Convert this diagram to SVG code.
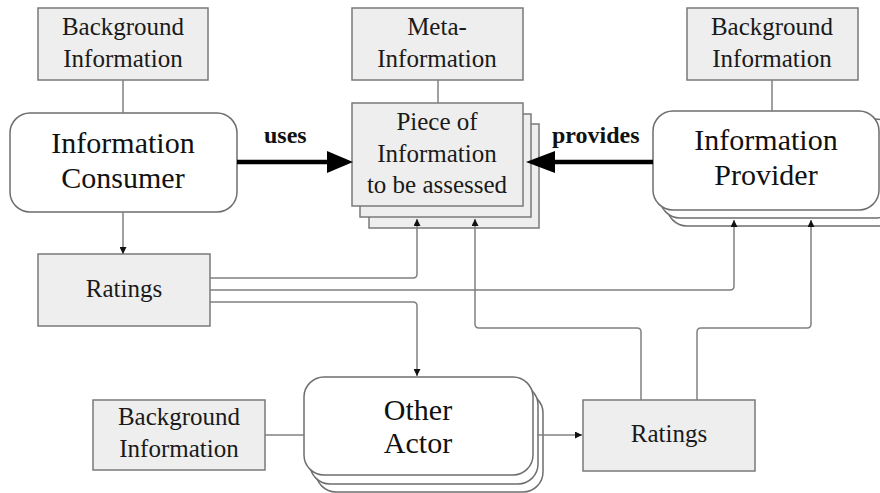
<svg xmlns="http://www.w3.org/2000/svg" width="880" height="493" viewBox="0 0 880 493">
<defs>
<style>
.box{fill:#eeeeee;stroke:#7a7a7a;stroke-width:1.5}
.actor{fill:#ffffff;stroke:#6e6e6e;stroke-width:1.5}
text{font-family:'Liberation Serif','DejaVu Serif',serif}
.t{font-size:25px;fill:#1a1a1a;text-anchor:middle}
.ta{font-size:30px;fill:#111;text-anchor:middle}
.lbl{font-size:24px;font-weight:bold;fill:#111}
.c{fill:none;stroke:#808080;stroke-width:1.5}
.thick{fill:none;stroke:#000;stroke-width:4.5}
</style>
<marker id="sm" viewBox="0 0 10 10" refX="10" refY="5" markerWidth="9" markerHeight="7" markerUnits="userSpaceOnUse" orient="auto">
<path d="M0,0 L10,5 L0,10 Z" fill="#111"/>
</marker>
</defs>

<g id="bg-consumer">
<rect class="box" x="38" y="8" width="170" height="72"/>
<text class="t" x="123" y="35">Background</text>
<text class="t" x="123" y="67">Information</text>
</g>

<g id="meta-information">
<rect class="box" x="352" y="8" width="171" height="72"/>
<text class="t" x="437" y="35">Meta-</text>
<text class="t" x="437" y="67">Information</text>
</g>

<g id="bg-provider">
<rect class="box" x="687" y="8" width="171" height="72"/>
<text class="t" x="772" y="35">Background</text>
<text class="t" x="772" y="67">Information</text>
</g>

<g id="information-consumer">
<rect class="actor" x="10" y="113" width="227" height="99" rx="20" ry="20"/>
<text class="ta" x="123" y="153">Information</text>
<text class="ta" x="123" y="188">Consumer</text>
</g>

<g id="piece-of-information">
<rect class="box" x="369" y="124" width="170" height="104"/>
<rect class="box" x="360" y="114" width="171" height="103"/>
<rect class="box" x="352" y="103" width="171" height="103"/>
<text class="t" x="437" y="130">Piece of</text>
<text class="t" x="437" y="162">Information</text>
<text class="t" x="437" y="193">to be assessed</text>
</g>

<g id="information-provider">
<rect class="actor" x="667" y="127" width="240" height="99" rx="20" ry="20"/>
<rect class="actor" x="660" y="119" width="235" height="99" rx="20" ry="20"/>
<rect class="actor" x="653" y="111" width="226" height="99" rx="20" ry="20"/>
<text class="ta" x="766" y="150">Information</text>
<text class="ta" x="766" y="185">Provider</text>
</g>

<g id="ratings-consumer">
<rect class="box" x="38" y="254" width="172" height="72"/>
<text class="t" x="124" y="297">Ratings</text>
</g>

<g id="bg-other">
<rect class="box" x="93" y="400" width="172" height="70"/>
<text class="t" x="179" y="425">Background</text>
<text class="t" x="179" y="457">Information</text>
</g>

<g id="other-actor">
<rect class="actor" x="316" y="393" width="227" height="99" rx="20" ry="20"/>
<rect class="actor" x="310" y="385" width="228" height="99" rx="20" ry="20"/>
<rect class="actor" x="304" y="377" width="229" height="98" rx="20" ry="20"/>
<text class="ta" x="418" y="420">Other</text>
<text class="ta" x="418" y="453">Actor</text>
</g>

<g id="ratings-other">
<rect class="box" x="583" y="400" width="172" height="71"/>
<text class="t" x="669" y="442">Ratings</text>
</g>

<g id="connectors">
<line class="c" x1="123" y1="80" x2="123" y2="113"/>
<line class="c" x1="123" y1="212" x2="123" y2="254" marker-end="url(#sm)"/>
<line class="c" x1="438" y1="80" x2="438" y2="103"/>
<line class="c" x1="772" y1="80" x2="772" y2="111"/>
<line class="c" x1="265" y1="435" x2="304" y2="435"/>
<path class="c" d="M210,278 H413 Q417,278 417,274 V219" marker-end="url(#sm)"/>
<path class="c" d="M210,290 H730 Q734,290 734,286 V220" marker-end="url(#sm)"/>
<path class="c" d="M210,302 H413 Q417,302 417,306 V376" marker-end="url(#sm)"/>
<path class="c" d="M641,400 V332 Q641,328 637,328 H479 Q475,328 475,324 V219" marker-end="url(#sm)"/>
<path class="c" d="M697,400 V332 Q697,328 701,328 H807 Q811,328 811,324 V220" marker-end="url(#sm)"/>
<line class="c" x1="537" y1="435" x2="582" y2="435" marker-end="url(#sm)"/>
<line class="thick" x1="237" y1="162" x2="330" y2="162"/>
<path d="M327,151 L353,162 L327,173 Z" fill="#000"/>
<line class="thick" x1="653" y1="162" x2="552" y2="162"/>
<path d="M555,151 L526,162 L555,173 Z" fill="#000"/>
<text class="lbl" x="264" y="143">uses</text>
<text class="lbl" x="552" y="143">provides</text>
</g>
</svg>
